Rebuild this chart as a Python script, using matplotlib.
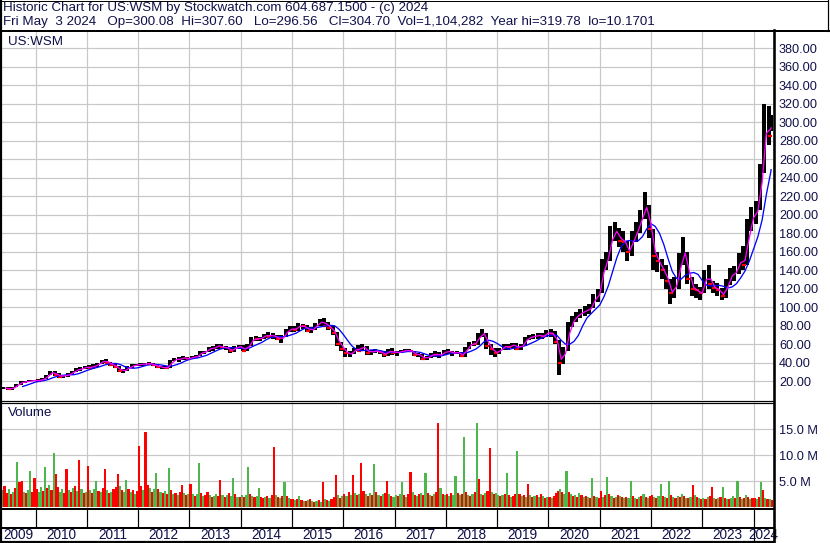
import matplotlib
matplotlib.use("Agg")
import matplotlib.pyplot as plt
import numpy as np

# ---------------- data ----------------
header_line1 = "Historic Chart for US:WSM by Stockwatch.com 604.687.1500 - (c) 2024"
header_line2 = ("Fri May  3 2024   Op=300.08  Hi=307.60   Lo=296.56   Cl=304.70  "
                "Vol=1,104,282  Year hi=319.78  lo=10.1701")
symbol_label = "US:WSM"
volume_label = "Volume"

start_year, start_month = 2009, 5          # first monthly bar (May 2009)
end_date = 2024 + 4 / 12 + 3 / 365         # last trading day shown (May 3 2024)
year_labels = list(range(2009, 2025))
price_ticks = list(range(20, 400, 20))
volume_ticks = [5, 10, 15]                 # millions

# monthly high / low / close, May 2009 .. May 2024
price_high = [
    14, 13, 13.5, 17, 20, 20.5, 21, 21.5,                                   # 2009
    22, 23, 27, 31, 31, 29, 27, 28.5, 31, 34, 35, 36.5,                     # 2010
    37, 38, 40, 43, 43.5, 41, 39, 36, 33, 36, 38, 38.5,                     # 2011
    40, 40, 40.5, 39, 38.5, 36, 36.5, 43, 45, 46, 47, 46,                   # 2012
    47, 48, 52, 53, 57, 58, 60, 60, 58, 57, 58, 59,                         # 2013
    58.5, 60, 68, 68.5, 68, 71, 72.5, 71.5, 70, 70, 76, 79,                 # 2014
    80, 83, 82, 81, 78, 83, 87, 88.5, 84, 80, 73, 62,                       # 2015
    56, 52, 56, 59, 60, 58, 54, 55, 53, 52.5, 55, 55.5,                     # 2016
    53, 54, 55, 54.5, 53, 50, 49, 47, 50, 52.5, 51, 54,                     # 2017
    55, 53, 53, 51, 57, 62, 63, 72, 76, 72, 60, 56,                         # 2018
    56, 60, 60, 61, 61, 60, 68, 70, 71, 72, 72, 75,                         # 2019
    76, 74, 64, 57, 84, 90, 95, 98, 101, 103, 114, 120,                     # 2020
    152, 160, 188, 192, 186, 182, 172, 182, 192, 205, 224, 210,             # 2021
    185, 160, 152, 145, 130, 132, 158, 176, 160, 132, 125, 122,             # 2022
    140, 146, 128, 126, 121, 130, 142, 144, 158, 166, 195, 208,             # 2023
    215, 255, 319.78, 318, 307.6,                                           # 2024
]
price_low = [
    11, 10.17, 10.5, 13, 16, 18, 18.5, 19.5,
    19, 19.5, 22, 26, 25, 23, 23, 24.5, 27, 29.5, 31, 32.5,
    33, 33, 35.5, 38.5, 39, 36, 34, 29.5, 29, 30.5, 34.5, 36,
    36, 36.5, 37.5, 36, 34, 32.5, 33, 34, 41.5, 41, 42.5, 42.5,
    43.5, 44.5, 47, 49.5, 51.5, 53, 55, 54.5, 53.5, 50, 51, 55,
    52, 52, 58, 63, 63.5, 66, 67, 66, 64.5, 61, 67.5, 73.5,
    73.5, 74, 76, 73, 72, 75.5, 80, 78, 75, 70, 58, 53,
    46.5, 45.5, 49.5, 52, 53, 48, 48.5, 50, 49, 46.5, 47, 48.5,
    47.5, 50, 51, 51, 47, 46, 42.5, 43, 45, 46, 44.5, 48,
    49, 47.5, 49, 46.5, 46, 55, 58, 59, 68, 55, 48, 46,
    49, 54, 54, 55.5, 54, 54, 58, 64, 65, 66, 65, 68,
    68, 60, 26.5, 38, 52, 78, 84, 88, 90, 92, 99, 105,
    115, 140, 150, 172, 165, 160, 150, 155, 170, 180, 195, 175,
    140, 138, 130, 120, 103, 110, 120, 145, 125, 112, 110, 108,
    115, 120, 115, 112, 108, 110, 124, 128, 136, 140, 145, 182,
    190, 205, 245, 275, 290,
]
price_close = [
    12, 11.5, 13, 16.5, 19, 19, 20, 21,
    20.5, 22.5, 26, 30, 27, 24, 26.5, 27, 30, 32.5, 33, 35.5,
    34, 37, 39, 42, 40, 37.5, 35, 31, 31.5, 35.5, 36.5, 38,
    38, 39, 38, 37, 35, 35, 34, 42, 43.5, 44, 45.5, 44,
    46, 47, 51.5, 52, 56, 56, 59, 55.5, 56, 52, 57, 58,
    53, 59, 67, 65, 67, 70, 68, 69, 65, 68, 75, 76,
    75, 81, 79.5, 74.5, 76, 82, 84, 80, 77, 72, 60, 55,
    50, 50, 55, 53, 57, 50, 52, 52, 51, 48, 54, 50,
    52, 52.5, 53, 52, 48, 48.5, 44, 46, 49.5, 48, 49, 51.5,
    52, 50.5, 50.5, 47, 56, 61, 60, 70, 70, 58, 55, 50,
    55, 58, 56.5, 60, 55, 58, 66.5, 67.5, 69, 70, 68, 73,
    71, 62, 40, 54, 80, 86, 92, 95, 97, 99, 110, 115,
    145, 155, 180, 182, 172, 170, 160, 176, 185, 200, 205, 185,
    155, 150, 140, 128, 115, 125, 150, 155, 130, 120, 118, 115,
    135, 125, 121, 118, 112, 125, 135, 140, 150, 145, 185, 200,
    205, 245, 300, 285, 304.7,
]

# half-monthly volume (millions), May 2009 .. early May 2024
volume_m = [
    3.2, 4.0, 2.8, 3.4, 2.6, 3.0, 3.6, 8.7, 4.8, 5.0, 3.0, 2.7, 3.3, 6.9, 2.9, 5.6,
    3.5, 2.9, 3.8, 3.1, 7.7, 3.6, 4.2, 3.3, 10.4, 6.4, 3.9, 3.0, 3.4, 2.8, 7.4, 3.2, 2.9, 3.6, 4.0, 3.1, 9.0, 3.5, 2.7, 3.0,
    7.9, 3.2, 2.8, 3.5, 5.0, 3.1, 2.9, 3.6, 7.4, 3.3, 2.7, 3.0, 3.4, 3.9, 6.4, 4.1, 3.2, 3.0, 5.2, 3.4, 2.9, 3.3, 2.6, 3.1,
    11.7, 4.0, 3.3, 14.4, 4.3, 3.6, 3.0, 3.4, 6.6, 3.5, 2.9, 2.7, 3.1, 2.6, 7.5, 3.2, 2.5, 2.8, 2.4, 3.0, 4.2, 2.7, 2.3, 2.6,
    4.5, 2.6, 2.2, 2.5, 8.5, 2.8, 2.1, 2.4, 3.0, 2.3, 2.0, 2.2, 2.6, 2.1, 5.3, 2.4, 2.0, 2.3, 2.7, 2.2, 5.5, 2.5, 2.0, 1.9,
    2.3, 2.0, 2.4, 7.8, 2.6, 2.1, 1.9, 2.2, 3.7, 2.0, 1.7, 1.9, 2.1, 1.8, 2.3, 11.5, 2.4, 2.0, 1.8, 2.1, 4.8, 2.2, 1.7, 1.6,
    1.5, 1.3, 1.6, 2.2, 1.4, 1.2, 1.1, 1.3, 1.6, 1.2, 1.0, 1.1, 1.3, 1.0, 4.8, 1.5, 1.3, 1.2, 1.6, 2.0, 6.2, 2.4, 1.8, 2.1,
    2.6, 2.2, 2.9, 2.4, 6.2, 2.8, 2.3, 2.6, 8.5, 3.1, 2.5, 2.2, 2.7, 2.4, 8.2, 2.9, 2.3, 2.1, 2.5, 2.8, 5.0, 2.6, 2.2, 2.0,
    2.4, 2.1, 2.6, 4.8, 2.3, 2.0, 2.5, 6.8, 2.9, 2.4, 2.2, 2.6, 2.8, 2.3, 6.6, 2.7, 2.4, 2.1, 2.5, 2.9, 16.1, 3.7, 2.6, 2.3,
    2.5, 2.2, 2.8, 2.4, 6.0, 2.7, 2.3, 2.6, 13.4, 3.0, 2.4, 2.2, 2.6, 2.9, 16.1, 5.4, 2.6, 2.3, 2.8, 3.1, 11.4, 2.9, 2.5, 2.7,
    2.4, 2.1, 2.3, 2.6, 6.6, 2.4, 2.0, 2.2, 2.5, 10.8, 2.6, 2.1, 2.3, 2.0, 4.4, 2.3, 1.9, 2.1, 2.4, 2.0, 2.6, 2.2, 1.8, 1.9,
    2.0, 1.8, 2.2, 2.7, 3.1, 3.4, 2.9, 2.6, 6.9, 3.0, 2.5, 2.2, 2.4, 2.0, 2.8, 2.3, 1.9, 2.1, 2.0, 1.8, 5.5, 2.2, 1.9, 1.7,
    3.1, 2.0, 2.3, 5.8, 2.5, 2.1, 1.8, 2.0, 2.4, 2.2, 1.9, 1.7, 2.0, 1.8, 5.0, 2.1, 1.8, 1.6, 1.9, 2.2, 2.6, 2.0, 1.8, 2.1,
    2.3, 2.0, 1.8, 2.1, 4.5, 2.2, 1.9, 1.7, 5.0, 2.4, 2.0, 1.8, 2.1, 1.9, 2.6, 2.2, 1.8, 1.7, 1.9, 4.2, 2.3, 1.9, 1.7, 1.6,
    1.8, 1.6, 1.9, 2.2, 3.9, 1.8, 1.5, 1.7, 2.0, 3.9, 1.7, 1.5, 1.6, 1.8, 2.1, 1.7, 5.0, 1.9, 1.6, 1.7, 2.3, 1.9, 1.6, 1.8,
    1.7, 1.5, 1.9, 4.8, 3.2, 1.8, 1.6, 1.5, 1.3,
]
volume_dir = (
    "GRRGRGRGRRGRGGRR"
    "RGGRGRGRGRRGGRRGRGRGRGRG"
    "RGRGGRGRRGRGRRRGRGGRGRGR"
    "RRGRRGRGGRGRGRGRGRGRRGRG"
    "RGRGGRGRRGRGGRRGRGRGGRGR"
    "GRGGRGRGGRRGRGRRGRGRGRGR"
    "RGRGRGRGRGRGRGRGRGRRRGRG"
    "RGRGRGRGRRGRGRGRGRGRRGRG"
    "GRGGRGRRGRGRGRGRGRGRRGRG"
    "RGRGGRGRGRGRGRGRGRGRRGRG"
    "GRGRGRGRRGRGRGRGRGRGRGRG"
    "RGRRRGRGGRGRGRGRGRGRGRGR"
    "RGRGRGRGRGRGRGGRGRGRGRGR"
    "RGRGGRGRGRGRGRGRGRGRGRGR"
    "GRGRRGRGRGRGRGGRGRGRGRGR"
    "RGRGRGRGR"
)

# ---------------- styling ----------------
W, H, DPI = 830, 543, 100
FONT = ["Liberation Sans", "DejaVu Sans"]
plt.rcParams["font.family"] = FONT
TXT = "#10104a"
GRID = "#c8c8c8"
PX = 72.0 / DPI  # points per pixel

# ---------------- derived positions ----------------
n = len(price_close)
m_index = np.arange(n) + (start_year * 12 + start_month - 1)
month_start = m_index / 12.0
month_mid = np.minimum(month_start + 0.5 / 12, end_date - 0.002)
month_end = np.minimum(month_start + 1 / 12, end_date)
hi = np.array(price_high, float)
lo = np.array(price_low, float)
cl = np.array(price_close, float)
tp = (hi + lo + cl) / 3.0
days = np.full(n, 21.0)
days[-1] = 3.0


def trailing_avg(values, weights, window):
    out = np.full(len(values), np.nan)
    for i in range(len(values)):
        need, acc, j = window, 0.0, i
        while j >= 0 and need > 0:
            w = min(weights[j], need)
            acc += w * values[j]
            need -= w
            j -= 1
        if need <= 0:
            out[i] = acc / window
    return out


ma_short = trailing_avg(tp, days, 20)
ma_long = trailing_avg(tp, days, 100)
down = np.r_[False, cl[1:] < cl[:-1]]

vol = np.array(volume_m, float)
h_index = np.arange(len(vol)) + (start_year * 24 + (start_month - 1) * 2)
vol_x = (h_index + 0.5) / 24.0
vol_col = ["#ff0000" if c == "R" else "#4cb84c" for c in volume_dir]

# ---------------- figure ----------------
fig = plt.figure(figsize=(W / DPI, H / DPI), dpi=DPI)
fig.patch.set_facecolor("white")


def rect(x0, y0, x1, y1):
    return [x0 / W, 1 - y1 / H, (x1 - x0) / W, (y1 - y0) / H]


XL = (2010 - 34.5 / 51.29, 2010 + 737.5 / 51.29)
year_bounds = list(range(2010, 2025))

# main price panel
ax = fig.add_axes(rect(1, 31, 773, 400))
ax.set_xlim(XL)
ax.set_ylim(-0.54, 398.7)
for s in ax.spines.values():
    s.set_visible(False)
ax.set_xticks(year_bounds)
ax.set_yticks(price_ticks)
ax.set_yticklabels([f"{v:.2f}" for v in price_ticks])
ax.yaxis.tick_right()
ax.tick_params(axis="y", length=0, pad=6 * PX, labelsize=9.2, labelcolor=TXT)
ax.tick_params(axis="x", length=0, labelbottom=False)
ax.grid(True, color=GRID, lw=1.2 * PX)
ax.set_axisbelow(True)

ax.vlines(month_mid, lo, hi, color="black", lw=4.0 * PX, zorder=3)
ax.plot(month_mid[down] + 0.02, cl[down], ls="none", marker="_", ms=3.0,
        mew=2.2 * PX, color="#ff0000", zorder=4)
ax.plot(month_end, ma_long, color="#0000ff", lw=1.3 * PX, zorder=5)
ax.plot(month_end, ma_short, color="#ff00ff", lw=1.3 * PX, zorder=6)

# volume panel
axv = fig.add_axes(rect(1, 402, 773, 508))
axv.set_xlim(XL)
axv.set_ylim(-0.17, 20.2)
for s in axv.spines.values():
    s.set_visible(False)
axv.set_xticks(year_bounds)
axv.set_yticks(volume_ticks)
axv.set_yticklabels([f"{v:.1f} M" for v in volume_ticks])
axv.yaxis.tick_right()
axv.tick_params(axis="y", length=0, pad=6 * PX, labelsize=9.2, labelcolor=TXT)
axv.tick_params(axis="x", length=0, labelbottom=False)
axv.grid(True, color=GRID, lw=1.2 * PX)
axv.set_axisbelow(True)
axv.bar(vol_x, vol, width=1 / 24.0, color=vol_col, linewidth=0, zorder=3,
        antialiased=False)

# year strip
axt = fig.add_axes(rect(1, 508, 773, 542))
axt.set_xlim(XL)
axt.set_ylim(0, 1)
axt.axis("off")
y527 = (542 - 527) / 34.0
axt.vlines(year_bounds[:-1], y527, 1, color="black", lw=1.2 * PX)
axt.vlines(year_bounds[-1:], 0, 1, color="black", lw=1.2 * PX)
edges = [XL[0]] + year_bounds + [XL[1]]
for yr, a, b in zip(year_labels, edges[:-1], edges[1:]):
    axt.text((a + b) / 2, (542 - 535) / 34.0, str(yr), ha="center", va="center",
             fontsize=9.8, color=TXT, clip_on=False)

# overlay (frame lines and header)
ov = fig.add_axes([0, 0, 1, 1], zorder=10)
ov.set_xlim(0, W)
ov.set_ylim(H, 0)
ov.axis("off")
K = "black"
ov.plot([0, 828], [0.5, 0.5], color=K, lw=1 * PX)
ov.plot([827.5, 827.5], [0, 31], color=K, lw=1.2 * PX)
ov.plot([0, 830], [30.5, 30.5], color=K, lw=2 * PX)
ov.plot([1, 1], [0, H], color=K, lw=2.2 * PX)
ov.plot([774, 774], [30, H], color=K, lw=2.6 * PX)
ov.plot([0, 774], [400.5, 400.5], color=K, lw=1.2 * PX)
ov.plot([0, 774], [402.5, 402.5], color=K, lw=1.2 * PX)
ov.plot([0, 774], [508.5, 508.5], color=K, lw=2 * PX)
ov.plot([0, 774], [527.5, 527.5], color=K, lw=2 * PX)
ov.plot([0, 774], [541.8, 541.8], color=K, lw=2.2 * PX)

ov.text(3, 8, header_line1, fontsize=9.6, color=TXT, va="center", ha="left")
ov.text(3, 21.5, header_line2, fontsize=9.6, color=TXT, va="center", ha="left")
ov.text(8, 42, symbol_label, fontsize=9.6, color=TXT, va="center", ha="left")
ov.text(8, 413, volume_label, fontsize=9.6, color=TXT, va="center", ha="left")

fig.savefig("out.png", dpi=DPI, facecolor="white")
